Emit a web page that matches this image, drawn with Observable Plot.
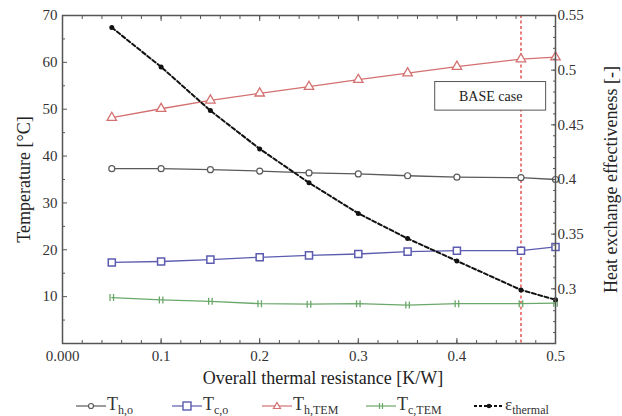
<!DOCTYPE html>
<html>
<head>
<meta charset="utf-8">
<script src="https://cdn.jsdelivr.net/npm/d3@7"></script>
<script src="https://cdn.jsdelivr.net/npm/@observablehq/plot@0.6"></script>
<style>
  body { margin: 0; background: #fff; font-family: "Liberation Serif", "DejaVu Serif", serif; }
  #legend { height: 24px; position: relative; color: #333; font-size: 18px; }
  .item { position: absolute; display: flex; align-items: center; }
  .item sub { font-size: 12px; vertical-align: -4px; }
  svg text { font-family: "Liberation Serif", serif; }
</style>
</head>
<body>
<div id="chart"></div>
<div id="legend"></div>
<script>
// Overall thermal resistance [K/W]
const resistance = [0.05, 0.1, 0.15, 0.2, 0.25, 0.3, 0.35, 0.4, 0.465, 0.5];
// Temperatures [°C]
const Tho   = [37.3, 37.3, 37.1, 36.8, 36.4, 36.2, 35.8, 35.5, 35.4, 35.0];
const Tco   = [17.3, 17.5, 17.9, 18.4, 18.8, 19.1, 19.6, 19.8, 19.8, 20.6];
const ThTEM = [48.2, 50.1, 51.9, 53.4, 54.8, 56.3, 57.7, 59.1, 60.7, 61.1];
const TcTEM = [9.8, 9.3, 9.0, 8.5, 8.4, 8.5, 8.2, 8.5, 8.5, 8.6];
// Heat exchange effectiveness [-]
const epsThermal = [0.539, 0.503, 0.463, 0.428, 0.397, 0.369, 0.346, 0.3255, 0.299, 0.29];
const baseCaseR = 0.465;
const baseCaseLabel = "BASE case";

const xTicks = [0, 0.1, 0.2, 0.3, 0.4, 0.5];
const yTicks = [10, 20, 30, 40, 50, 60, 70];
const effTicks = [0.3, 0.35, 0.4, 0.45, 0.5, 0.55];

const effLo = 0.25, effHi = 0.55, tLo = 0, tHi = 70;
const toT = e => tLo + (e - effLo) / (effHi - effLo) * (tHi - tLo);

const series = [
  {key: "Tho", vals: Tho, color: "#5a5a5a"},
  {key: "Tco", vals: Tco, color: "#5b5bb0"},
  {key: "ThTEM", vals: ThTEM, color: "#d47070"},
  {key: "TcTEM", vals: TcTEM, color: "#6aa86a"}
];
const rows = (vals) => resistance.map((r, i) => ({r, v: vals[i]}));
const effRows = resistance.map((r, i) => ({r, v: toT(epsThermal[i])}));

const doubleBar = {
  draw(ctx, size) {
    const r = Math.sqrt(size / Math.PI);
    ctx.moveTo(-r * 0.5, -r); ctx.lineTo(-r * 0.5, r);
    ctx.moveTo(r * 0.5, -r); ctx.lineTo(r * 0.5, r);
  }
};

const xMinor = d3.range(0, 0.5001, 0.02).map(v => +v.toFixed(2));
const yMinor = d3.range(5, 70, 10);
const effMinor = d3.range(0.25, 0.5501, 0.01).map(v => toT(+v.toFixed(2)));

const FF = "Liberation Serif";
const txt = "#333";
const tk = {text: null, label: null, stroke: "#555"};

const plot = Plot.plot({
  width: 622,
  height: 392,
  marginLeft: 62,
  marginRight: 67,
  marginTop: 15,
  marginBottom: 49,
  style: {fontFamily: "Liberation Serif, serif", fontSize: "15px", color: txt, background: "#fff"},
  x: {domain: [0, 0.5]},
  y: {domain: [0, 70]},
  marks: [
    // base case line
    Plot.ruleX([baseCaseR], {stroke: "#e03a3a", strokeWidth: 1.3, strokeDasharray: "3,2.5"}),
    // BASE case box
    Plot.rect([baseCaseLabel], {x1: 0.378, x2: 0.4905, y1: 49.7, y2: 55.8, fill: "#fff", stroke: "#555", strokeWidth: 1}),
    Plot.text([baseCaseLabel], {x: 0.4343, y: 52.75, text: d => d, fontSize: 14, fill: "#222", fontFamily: FF}),
    // lines
    ...series.map(s => Plot.line(rows(s.vals), {x: "r", y: "v", stroke: s.color, strokeWidth: 1.3})),
    Plot.line(effRows, {x: "r", y: "v", stroke: "#111", strokeWidth: 2, strokeDasharray: "4,2.5"}),
    // markers
    Plot.dot(rows(Tho), {x: "r", y: "v", symbol: "circle", r: 3, stroke: "#5a5a5a", fill: "#fff", strokeWidth: 1.2}),
    Plot.dot(rows(Tco), {x: "r", y: "v", symbol: "square", r: 4, stroke: "#5b5bb0", fill: "#fff", strokeWidth: 1.5}),
    Plot.dot(rows(ThTEM), {x: "r", y: "v", symbol: "triangle", r: 3.5, stroke: "#d47070", fill: "#fff", strokeWidth: 1.3}),
    Plot.dot(rows(TcTEM), {x: "r", y: "v", symbol: doubleBar, r: 3.5, stroke: "#6aa86a", strokeWidth: 1.3}),
    Plot.dot(effRows, {x: "r", y: "v", r: 2.5, fill: "#111", stroke: "none"}),
    // frame
    Plot.frame({stroke: "#555", strokeWidth: 1.5}),
    // x axis
    Plot.axisX(xTicks, {anchor: "bottom", tickSize: -5, ...tk}),
    Plot.axisX(xMinor, {anchor: "bottom", tickSize: -3, ...tk}),
    Plot.axisX(xTicks, {anchor: "top", tickSize: -5, ...tk}),
    Plot.axisX(xMinor, {anchor: "top", tickSize: -3, ...tk}),
    Plot.axisX(xTicks, {anchor: "bottom", tickSize: 0, tickPadding: 7, label: null, fontSize: 15, fill: txt, fontFamily: FF,
      tickFormat: d => d === 0 ? "0.000" : String(d)}),
    Plot.text(["Overall thermal resistance [K/W]"], {frameAnchor: "bottom", lineAnchor: "middle", dy: 35, dx: 14, text: d => d, fontSize: 18, fill: "#222", fontFamily: FF}),
    // left y axis
    Plot.axisY(yTicks, {anchor: "left", tickSize: -5, ...tk}),
    Plot.axisY(yMinor, {anchor: "left", tickSize: -3, ...tk}),
    Plot.axisY(yTicks, {anchor: "left", tickSize: 0, tickPadding: 5, label: null, fontSize: 15, fill: txt, fontFamily: FF}),
    Plot.text(["Temperature [°C]"], {frameAnchor: "left", textAnchor: "middle", dx: -38, rotate: -90, text: d => d, fontSize: 18, fill: "#222", fontFamily: FF}),
    // right y axis (effectiveness)
    Plot.axisY(effTicks.map(toT), {anchor: "right", tickSize: -5, ...tk}),
    Plot.axisY(effMinor, {anchor: "right", tickSize: -3, ...tk}),
    Plot.axisY(effTicks.map(toT), {anchor: "right", tickSize: 0, tickPadding: 2, label: null, fontSize: 15, fill: txt, fontFamily: FF,
      tickFormat: t => String(+(effLo + (t - tLo) / (tHi - tLo) * (effHi - effLo)).toFixed(2))}),
    Plot.text(["Heat exchange effectiveness [-]"], {frameAnchor: "right", textAnchor: "middle", dx: 56, rotate: -90, text: d => d, fontSize: 18, fill: "#222", fontFamily: FF})
  ]
});
document.getElementById("chart").appendChild(plot);

// legend
const legendItems = [
  {left: 76, color: "#5a5a5a", sym: "circle", label: 'T<sub>h,o</sub>'},
  {left: 172, color: "#5b5bb0", sym: "square", label: 'T<sub>c,o</sub>'},
  {left: 262, color: "#d47070", sym: "triangle", label: 'T<sub>h,TEM</sub>'},
  {left: 366, color: "#6aa86a", sym: "bars", label: 'T<sub>c,TEM</sub>'},
  {left: 474, color: "#111", sym: "dot", label: '<span style="font-size:17px">ε</span><sub style="font-size:12px">thermal</sub>'}
];
const leg = document.getElementById("legend");
for (const it of legendItems) {
  const div = document.createElement("div");
  div.className = "item";
  div.style.left = it.left + "px";
  div.style.top = "2px";
  let sym = "";
  const c = it.color;
  if (it.sym === "circle") sym = `<circle cx="15" cy="8" r="2.5" fill="#fff" stroke="${c}" stroke-width="1.2"/>`;
  if (it.sym === "square") sym = `<rect x="11" y="4" width="8" height="8" fill="#fff" stroke="${c}" stroke-width="1.4"/>`;
  if (it.sym === "triangle") sym = `<path d="M15,4.5 L18.5,10.5 L11.5,10.5 Z" fill="#fff" stroke="${c}" stroke-width="1.2"/>`;
  if (it.sym === "bars") sym = `<path d="M13.5,5 V11 M16.5,5 V11" stroke="${c}" stroke-width="1.2"/>`;
  if (it.sym === "dot") sym = `<circle cx="15" cy="8" r="2.3" fill="${c}"/>`;
  const dash = it.sym === "dot" ? 'stroke-dasharray="3,2" stroke-width="1.8"' : 'stroke-width="1.2"';
  div.innerHTML = `<svg width="30" height="16" style="margin-right:1px"><line x1="0" y1="8" x2="30" y2="8" stroke="${c}" ${dash}/>${sym}</svg><span>${it.label}</span>`;
  leg.appendChild(div);
}
</script>
</body>
</html>
